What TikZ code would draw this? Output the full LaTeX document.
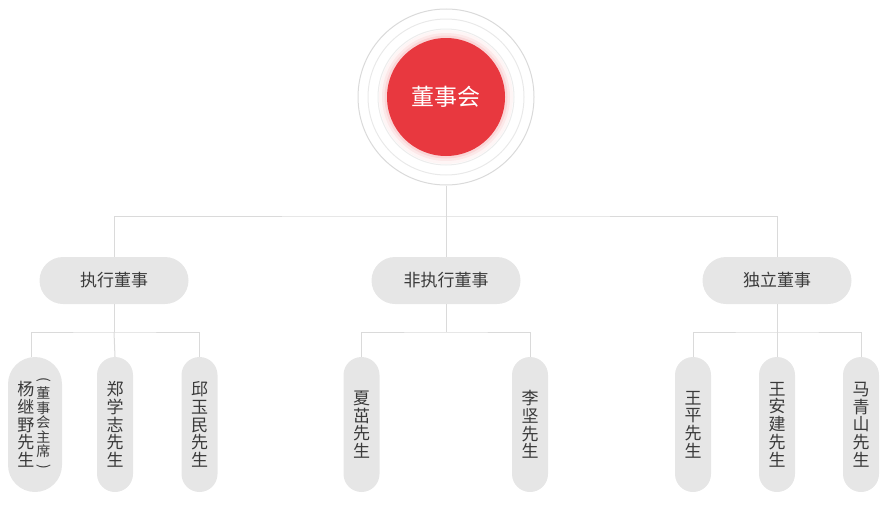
\documentclass[tikz,border=0pt]{standalone}
\usepackage{fontspec}
\usepackage{xcolor}
\usepackage{graphicx}
\setmainfont{Noto Sans CJK SC}
\newfontfamily\cjk{Noto Sans CJK SC}

\definecolor{boardred}{HTML}{E8383F}
\definecolor{pillgray}{HTML}{E6E6E6}
\definecolor{linegray}{HTML}{DADADA}
\definecolor{textgray}{HTML}{3A3A3A}

\newcommand{\vparen}[1]{\rotatebox[origin=c]{-90}{#1}}

\tikzset{
  link/.style={draw=linegray, line width=1pt},
  group/.style={rectangle, fill=pillgray, rounded corners=23.5pt, minimum width=149pt,
    minimum height=47pt, inner sep=0pt, text=textgray, font=\cjk\fontsize{17}{20}\selectfont},
  leaf/.style={rectangle, fill=pillgray, rounded corners=18pt, minimum width=36pt,
    minimum height=135pt, inner sep=0pt, text=textgray, align=center,
    font=\cjk\fontsize{17}{17.7}\selectfont},
}

\begin{document}
\begin{tikzpicture}[x=1pt, y=-1pt]
  \useasboundingbox (0,0) rectangle (890,506);

  % board circle with rings and glow
  \node[circle, draw=linegray, line width=1pt, minimum size=176pt, inner sep=0pt] (halo) at (446,97) {};
  \node[circle, draw=linegray!60, line width=1pt, minimum size=156pt, inner sep=0pt] (ringb) at (446,97) {};
  \node[circle, draw=linegray!50, line width=1pt, minimum size=136pt, inner sep=0pt] (ringc) at (446,97) {};
  \fill[boardred, opacity=0.05] (446,97) circle (67pt);
  \fill[boardred, opacity=0.07] (446,97) circle (64pt);
  \fill[boardred, opacity=0.10] (446,97) circle (61.5pt);
  \node[circle, fill=boardred, minimum size=118pt, inner sep=0pt, text=white,
    font=\cjk\fontsize{23}{26}\selectfont] (board) at (446,97) {董事会};

  % second level
  \node[group] (exec) at (114,280.5) {执行董事};
  \node[group] (nonexec) at (446,280.5) {非执行董事};
  \node[group] (indep) at (777,280.5) {独立董事};

  % leaves
  \node[leaf, minimum width=54pt, rounded corners=27pt] (yang) at (35,424.5)
    {\hspace{-2pt}\parbox[c]{17pt}{\centering 杨\\继\\野\\先\\生}\hspace{2pt}%
     \parbox[c]{14pt}{\centering\fontsize{14}{14.5}\selectfont
       \vparen{(}\\董\\事\\会\\主\\席\\\vparen{)}}};
  \node[leaf] (zheng) at (115,424.5) {郑\\学\\志\\先\\生};
  \node[leaf] (qiu) at (199.5,424.5) {邱\\玉\\民\\先\\生};
  \node[leaf] (xia) at (361.5,424.5) {夏\\茁\\先\\生};
  \node[leaf] (li) at (530,424.5) {李\\坚\\先\\生};
  \node[leaf] (wangp) at (693,424.5) {王\\平\\先\\生};
  \node[leaf] (wangaj) at (777,424.5) {王\\安\\建\\先\\生};
  \node[leaf] (ma) at (861,424.5) {马\\青\\山\\先\\生};

  % bus points
  \coordinate (topbus) at (446,216);
  \coordinate (execbus) at (114,332);
  \coordinate (nonbus) at (446,332);
  \coordinate (indbus) at (777,332);
  \coordinate (yangtop) at (31,357);

  % connectors
  \draw[link] (halo.south) -- (topbus);
  \draw[link] (exec.north) |- (topbus) -| (indep.north);
  \draw[link] (topbus) -- (nonexec.north);

  \draw[link] (exec.south) -- (execbus);
  \draw[link] (yangtop) |- (execbus) -| (qiu.north);
  \draw[link] (execbus) -- (zheng.north);

  \draw[link] (nonexec.south) -- (nonbus);
  \draw[link] (xia.north) |- (nonbus) -| (li.north);

  \draw[link] (indep.south) -- (indbus);
  \draw[link] (wangp.north) |- (indbus) -| (ma.north);
  \draw[link] (indbus) -- (wangaj.north);
\end{tikzpicture}
\end{document}
